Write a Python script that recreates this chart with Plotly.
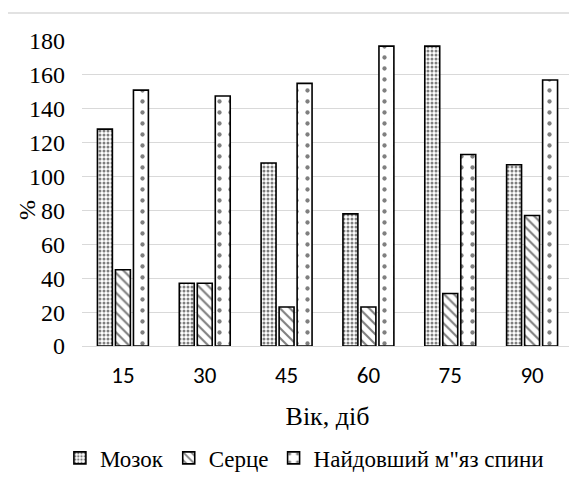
import plotly.graph_objects as go

categories = ["15", "30", "45", "60", "75", "90"]
mozok = [128, 37, 108, 78, 177, 107]
sertse = [45, 37, 23, 23, 31, 77]
myaz = [151, 147.5, 155, 177, 113, 157]
names = ["Мозок", "Серце", "Найдовший м\"яз спини"]
y_ticks = [0, 20, 40, 60, 80, 100, 120, 140, 160, 180]

serif = "Liberation Serif"
sans = "Carlito, Lato, sans-serif"

fig = go.Figure()
patterns = [
    dict(shape=".", size=4, solidity=0.45, fgcolor="black", bgcolor="white", fillmode="overlay"),
    dict(shape="\\", size=7, solidity=0.3, fgcolor="black", bgcolor="white", fillmode="overlay"),
    dict(shape=".", size=11, solidity=0.12, fgcolor="black", bgcolor="white", fillmode="overlay"),
]
for name, vals, pat in zip(names, [mozok, sertse, myaz], patterns):
    fig.add_trace(go.Bar(
        x=categories, y=vals, name=name,
        marker=dict(color="white", line=dict(color="black", width=1.6), pattern=pat),
    ))

W, H = 569, 478
fig.update_layout(
    width=W, height=H,
    font=dict(family=serif, color="black", size=24),
    paper_bgcolor="white", plot_bgcolor="white",
    margin=dict(l=74, r=4, t=33, b=140, autoexpand=False),
    barmode="group", bargap=0.34, bargroupgap=0.17,
    showlegend=True,
    legend=dict(orientation="h", x=-0.045, xanchor="left", y=-0.367, yanchor="middle",
                font=dict(family=serif, size=23, color="black"),
                itemwidth=30, tracegroupgap=0),
    xaxis=dict(type="category", automargin=False,
               tickfont=dict(family=sans, size=23, color="black"),
               ticklabelstandoff=13,
               showline=False, ticks="", title=dict(text="Вік, діб",
               font=dict(family=serif, size=26, color="black"), standoff=18)),
    yaxis=dict(range=[0, 180], tickvals=y_ticks, showgrid=True, gridcolor="#d9d9d9",
               automargin=False, ticklabelstandoff=16,
               gridwidth=1, zeroline=True, zerolinecolor="#d9d9d9", zerolinewidth=1,
               tickfont=dict(family=serif, size=24, color="black"), ticks=""),
    annotations=[dict(text="%", xref="paper", yref="paper", x=-0.112, y=0.446,
                      xanchor="center", yanchor="middle",
                      showarrow=False, textangle=-90,
                      font=dict(family=serif, size=24, color="black"))],
    shapes=[
        dict(type="line", xref="paper", yref="paper", x0=-0.1527, x1=1.02, y0=1.0918, y1=1.0918,
             line=dict(color="#d9d9d9", width=1.5)),
        dict(type="line", xref="paper", yref="paper", x0=-0.1527, x1=-0.1527, y0=1.0918, y1=-0.5,
             line=dict(color="#d9d9d9", width=1.5)),
    ],
)

fig.write_html("out.html")
